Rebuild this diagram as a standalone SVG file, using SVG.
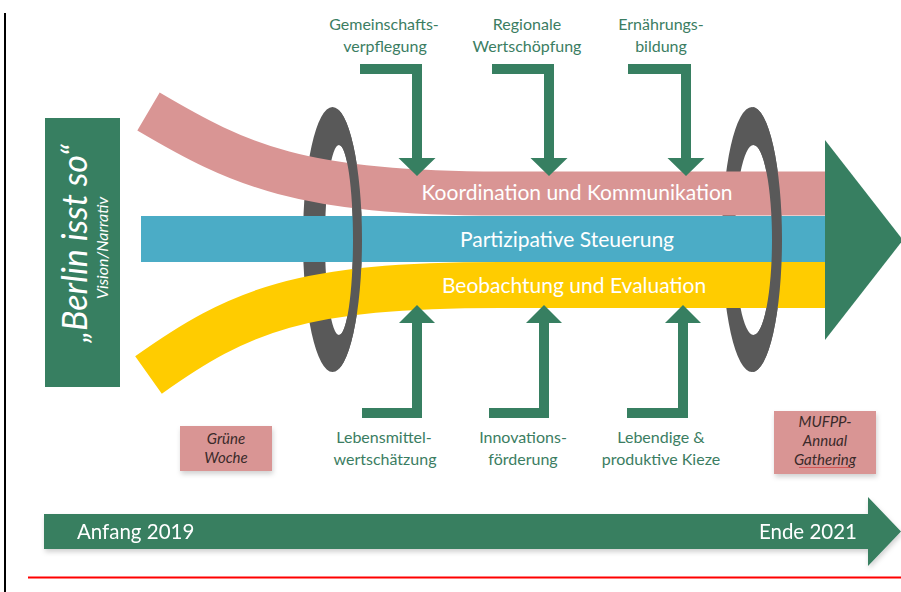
<svg xmlns="http://www.w3.org/2000/svg" width="901" height="592" viewBox="0 0 901 592">
<defs>
<style>
.grn{fill:#377F61}
.lbl{font-family:Lato,"Liberation Sans",sans-serif;font-size:16px;fill:#3B7D62;text-anchor:middle}
.band{font-family:Lato,"Liberation Sans",sans-serif;font-size:21px;fill:#ffffff;text-anchor:middle}
.box{fill:#D99594}
.btxt{font-family:Lato,"Liberation Sans",sans-serif;font-size:15px;font-style:italic;fill:#3a2a2a;text-anchor:middle}
.ring{fill:#595959;fill-rule:evenodd}
.time{font-family:Lato,"Liberation Sans",sans-serif;font-size:20.5px;fill:#ffffff}
</style>
<filter id="sh" x="-10%" y="-30%" width="120%" height="170%">
<feDropShadow dx="1" dy="3" stdDeviation="2.5" flood-color="#000" flood-opacity="0.18"/>
</filter>
<clipPath id="frontL"><rect x="339" y="0" width="60" height="592"/></clipPath>
<clipPath id="frontR"><rect x="753" y="0" width="60" height="592"/></clipPath>
</defs>

<rect x="0" y="0" width="901" height="592" fill="#ffffff"/>
<rect x="4" y="13" width="2" height="579" fill="#000000"/>
<rect x="28" y="576.5" width="873" height="2" fill="#ff0000"/>

<g id="vision">
<rect x="45" y="118" width="75" height="269" class="grn"/>
<text transform="translate(87,243.5) rotate(-90)" font-family="Lato,'Liberation Sans',sans-serif" font-size="34" font-style="italic" fill="#ffffff" text-anchor="middle">„Berlin isst so“</text>
<text transform="translate(108,248) rotate(-90)" font-family="Lato,'Liberation Sans',sans-serif" font-size="16" font-style="italic" fill="#ffffff" text-anchor="middle">Vision/Narrativ</text>
</g>

<g id="ring-left-back">
<path class="ring" d="M303,239.5 a29.5,132.5 0 1,0 59,0 a29.5,132.5 0 1,0 -59,0 Z M325,240 a14,95 0 1,0 28,0 a14,95 0 1,0 -28,0 Z"/>
</g>
<g id="ring-right-back">
<path class="ring" d="M722,239.5 a30,132.5 0 1,0 60,0 a30,132.5 0 1,0 -60,0 Z M735,240 a18.5,95 0 1,0 37,0 a18.5,95 0 1,0 -37,0 Z"/>
</g>

<g id="band-koordination">
<path d="M148.5,111.5 C240,165.5 300,193.5 500,193.5 L825,193.5" fill="none" stroke="#D99594" stroke-width="44"/>
<text class="band" x="577" y="200">Koordination und Kommunikation</text>
</g>
<g id="band-beobachtung">
<path d="M148.5,375 C240,310 300,285 500,285 L825,285" fill="none" stroke="#FFCC00" stroke-width="46"/>
<text class="band" x="574" y="293">Beobachtung und Evaluation</text>
</g>
<g id="band-partizipative">
<rect x="141" y="216" width="684" height="46" fill="#4BACC6"/>
<text class="band" x="567" y="247">Partizipative Steuerung</text>
</g>

<g id="arrowhead-main">
<polygon points="825,140 903,240 825,340" class="grn"/>
</g>

<g id="ring-left-front" clip-path="url(#frontL)">
<path class="ring" d="M303,239.5 a29.5,132.5 0 1,0 59,0 a29.5,132.5 0 1,0 -59,0 Z M325,240 a14,95 0 1,0 28,0 a14,95 0 1,0 -28,0 Z"/>
</g>
<g id="ring-right-front" clip-path="url(#frontR)">
<path class="ring" d="M722,239.5 a30,132.5 0 1,0 60,0 a30,132.5 0 1,0 -60,0 Z M735,240 a18.5,95 0 1,0 37,0 a18.5,95 0 1,0 -37,0 Z"/>
</g>

<g id="connectors">
<polygon class="grn" points="360,64 422,64 422,158 435.5,158 417,176 398.5,158 412,158 412,74 360,74"/>
<polygon class="grn" points="492,64 554,64 554,158 567.5,158 549,176 530.5,158 544,158 544,74 492,74"/>
<polygon class="grn" points="628,64 691,64 691,158 704.5,158 686,176 667.5,158 681,158 681,74 628,74"/>
<polygon class="grn" points="362,418 422,418 422,323 435,323 417,305 399,323 412,323 412,408 362,408"/>
<polygon class="grn" points="489,418 549,418 549,323 562,323 544,305 526,323 539,323 539,408 489,408"/>
<polygon class="grn" points="627,418 688,418 688,323 701,323 683,305 665,323 678,323 678,408 627,408"/>
</g>

<g id="label-gemeinschaftsverpflegung">
<text class="lbl" x="384" y="30">Gemeinschafts-</text>
<text class="lbl" x="385" y="52">verpflegung</text>
</g>
<g id="label-regionale">
<text class="lbl" x="527" y="30">Regionale</text>
<text class="lbl" x="527" y="52">Wertschöpfung</text>
</g>
<g id="label-ernaehrung">
<text class="lbl" x="661" y="30">Ernährungs-</text>
<text class="lbl" x="661" y="52">bildung</text>
</g>
<g id="label-lebensmittel">
<text class="lbl" x="384" y="443">Lebensmittel-</text>
<text class="lbl" x="385" y="465">wertschätzung</text>
</g>
<g id="label-innovation">
<text class="lbl" x="523" y="443">Innovations-</text>
<text class="lbl" x="523" y="465">förderung</text>
</g>
<g id="label-kieze">
<text class="lbl" x="661" y="443">Lebendige &amp;</text>
<text class="lbl" x="661" y="465">produktive Kieze</text>
</g>

<g id="gruene-woche">
<rect x="180" y="426" width="92" height="45" class="box" filter="url(#sh)"/>
<text class="btxt" x="226" y="444">Grüne</text>
<text class="btxt" x="226" y="463">Woche</text>
</g>
<g id="mufpp">
<rect x="774" y="411" width="102" height="63" class="box" filter="url(#sh)"/>
<text class="btxt" x="825" y="427">MUFPP-</text>
<text class="btxt" x="825" y="446">Annual</text>
<text class="btxt" x="825" y="465">Gathering</text>
<line x1="799" y1="467.5" x2="851" y2="467.5" stroke="#d04848" stroke-width="0.8"/>
</g>

<g id="timeline" filter="url(#sh)">
<polygon class="grn" points="44,514 868,514 868,497 901,531.5 868,566 868,549 44,549"/>
<text class="time" x="77" y="539">Anfang 2019</text>
<text class="time" x="857" y="539" text-anchor="end">Ende 2021</text>
</g>
</svg>
